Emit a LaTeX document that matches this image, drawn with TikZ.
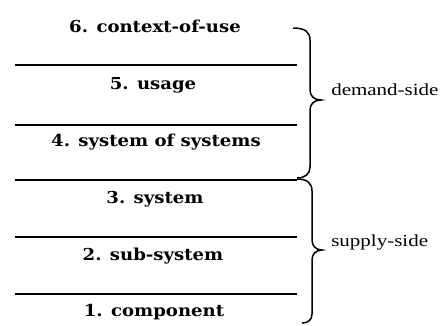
\documentclass[tikz,border=0pt]{standalone}
\usepackage{fontspec}
\setmainfont{Liberation Serif}
\newfontfamily\layerfont{DejaVu Serif}
\begin{document}
\begin{tikzpicture}[x=1bp,y=-1bp,
  layer/.style={font=\layerfont\bfseries\fontsize{16.5}{18}\selectfont, xscale=1.1, transform shape, inner sep=0pt, anchor=base},
  side/.style={font=\fontsize{17}{19}\selectfont, xscale=1.24, transform shape, inner sep=0pt, anchor=base west},
  thick sep/.style={line width=2.6bp},
  thin sep/.style={line width=1.4bp},
  bracestyle/.style={line width=1.5bp}]
\useasboundingbox (0,0) rectangle (440,325);
% separators
\coordinate (l5a) at (15,65);  \coordinate (l5b) at (297,65);
\coordinate (l4a) at (15,125); \coordinate (l4b) at (297,125);
\coordinate (l3a) at (15,180); \coordinate (l3b) at (297,180);
\coordinate (l2a) at (15,237); \coordinate (l2b) at (297,237);
\coordinate (l1a) at (15,294); \coordinate (l1b) at (297,294);
\draw[thick sep] (l5a) -- (l5b);
\draw[thick sep] (l4a) -- (l4b);
\draw[thick sep] (l3a) -- (l3b);
\draw[thin sep] (l2a) -- (l2b);
\draw[thick sep] (l1a) -- (l1b);
% layer labels
\node[layer] (t6) at (155,32) {6. context-of-use};
\node[layer] (t5) at (153,89) {5. usage};
\node[layer] (t4) at (156,146) {4. system of systems};
\node[layer] (t3) at (155,203) {3. system};
\node[layer] (t2) at (153,260) {2. sub-system};
\node[layer] (t1) at (154,316) {1. component};
% braces
\draw[bracestyle] (293,28) .. controls (305,28) and (310,32) .. (310,40) -- (310,90)
  .. controls (310,96) and (314,100) .. (321,100)
  .. controls (314,100) and (310,104) .. (310,110) -- (310,167)
  .. controls (310,174) and (305,178) .. (297,178);
\draw[bracestyle] (297,179) .. controls (307,179) and (312,183) .. (312,191) -- (312,240)
  .. controls (312,246) and (316,250) .. (322,250)
  .. controls (316,250) and (312,254) .. (312,260) -- (312,314)
  .. controls (312,320) and (308,323) .. (302,323);
\node[side] (dem) at (331,95) {demand-side};
\node[side] (sup) at (331,246) {supply-side};
\end{tikzpicture}
\end{document}
